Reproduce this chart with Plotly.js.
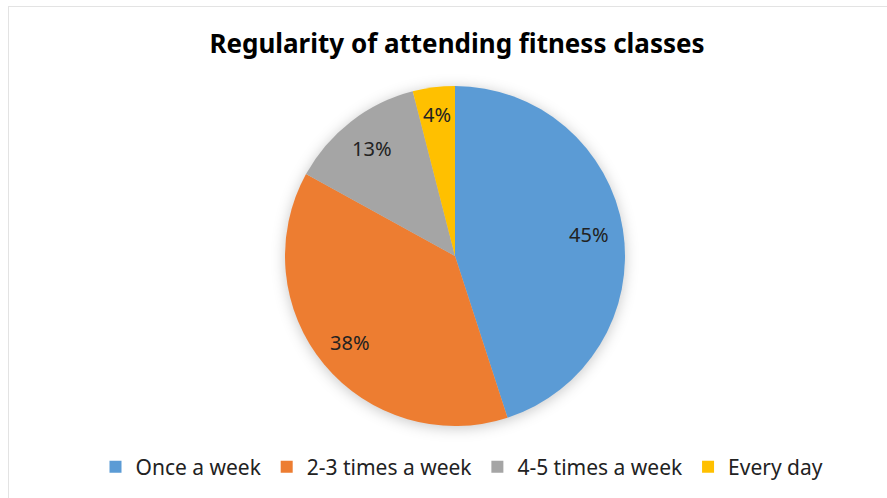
<!DOCTYPE html>
<html>
<head>
<meta charset="utf-8">
<script src="https://cdn.plot.ly/plotly-3.0.1.min.js"></script>
<style>
  html, body { margin: 0; padding: 0; background: #fff; overflow: hidden; }
  #frame { position: absolute; left: 8px; top: 6px; width: 920px; height: 540px; border: 1px solid #e3e3e3; box-sizing: border-box; pointer-events: none; z-index: 5; }
  #chart { position: absolute; left: 0; top: 0; width: 887px; height: 498px; }
  .pielayer { filter: drop-shadow(0px 2px 7px rgba(0,0,0,0.22)); }
</style>
</head>
<body>
<div id="chart"></div>
<div id="frame"></div>
<script>
const categories = ["Once a week", "2-3 times a week", "4-5 times a week", "Every day"];
const values = [45, 38, 13, 4];
const colors = ["#5B9BD5", "#ED7D31", "#A5A5A5", "#FFC000"];
const chartTitle = "Regularity of attending fitness classes";

const W = 887, H = 498;
const cx = 455, cy = 256, R = 170;

// label annotations at 0.8 radius along each slice's mid angle (clockwise from top)
const total = values.reduce((a, b) => a + b, 0);
let cum = 0;
const annotations = values.map((v) => {
  const mid = (cum + v / 2) / total * 2 * Math.PI;
  cum += v;
  const rr = v / total < 0.06 ? 0.84 : 0.8;
  const px = cx + rr * R * Math.sin(mid);
  const py = cy - rr * R * Math.cos(mid);
  return {
    x: px / W, y: 1 - py / H, xref: "paper", yref: "paper",
    text: Math.round(v / total * 100) + "%", showarrow: false,
    xanchor: "center", yanchor: "middle",
    font: { family: "Noto Sans, sans-serif", size: 20, color: "#222" }
  };
});

const trace = {
  type: "pie",
  labels: categories,
  values: values,
  marker: { colors: colors, line: { color: "#ffffff", width: 0 } },
  sort: false,
  direction: "clockwise",
  rotation: 0,
  textinfo: "none",
  hoverinfo: "label+percent",
  domain: { x: [(cx - R) / W, (cx + R) / W], y: [1 - (cy + R) / H, 1 - (cy - R) / H] }
};

const layout = {
  width: W, height: H,
  margin: { l: 0, r: 0, t: 0, b: 0 },
  paper_bgcolor: "#ffffff",
  title: {
    text: "<b>" + chartTitle + "</b>",
    x: 457 / W, xanchor: "center", y: 1 - 44 / H, yanchor: "middle",
    font: { family: "Noto Sans, sans-serif", size: 26, color: "#000" }
  },
  showlegend: true,
  legend: {
    orientation: "h", x: 462 / W, xanchor: "center", y: 1 - 467 / H, yanchor: "middle",
    font: { family: "Noto Sans, sans-serif", size: 21, color: "#222" },
    itemwidth: 30, tracegroupgap: 0
  },
  annotations: annotations
};

Plotly.newPlot("chart", [trace], layout, { displayModeBar: false, staticPlot: true });
</script>
</body>
</html>
